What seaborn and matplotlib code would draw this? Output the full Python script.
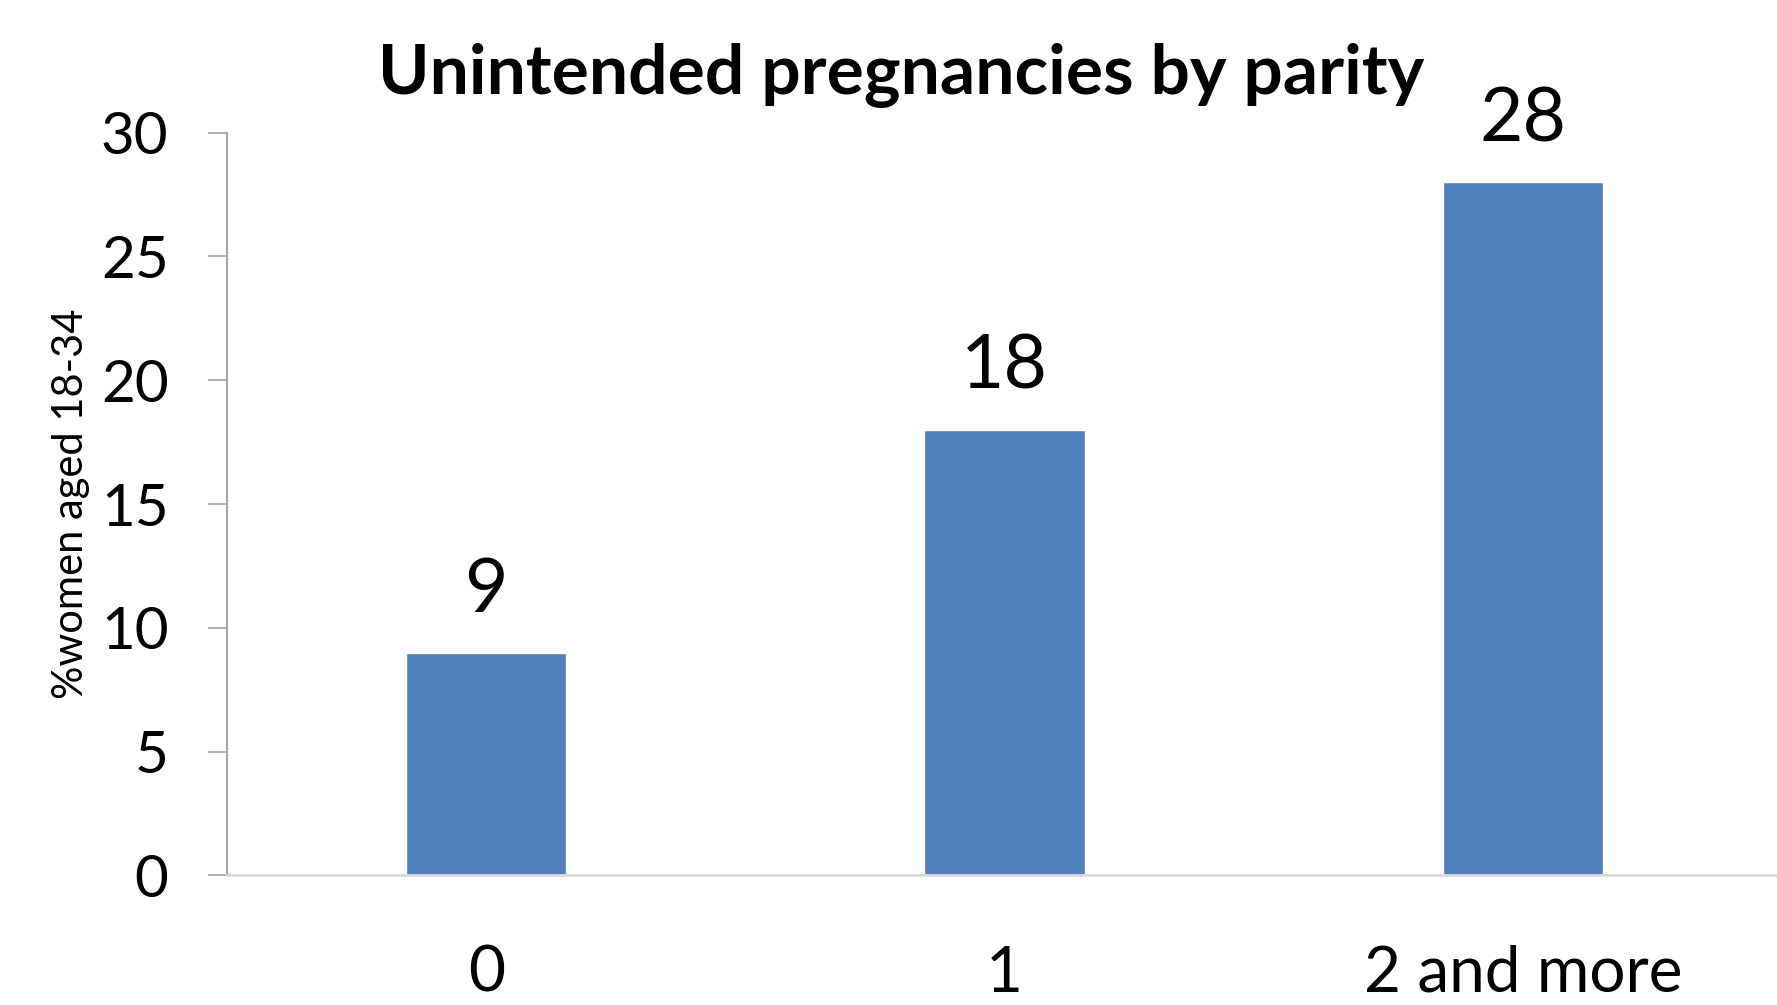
import matplotlib
matplotlib.use("Agg")
import matplotlib.pyplot as plt
import seaborn as sns
import pandas as pd

# data
parity = ["0", "1", "2 and more"]
pct_women = [9, 18, 28]
y_ticks = [0, 5, 10, 15, 20, 25, 30]

df = pd.DataFrame({"parity": parity, "pct": pct_women})

sns.set_style("white")
plt.rcParams["font.family"] = ["Lato", "DejaVu Sans"]
plt.rcParams["text.color"] = "black"
plt.rcParams["xtick.color"] = "black"
plt.rcParams["ytick.color"] = "black"
plt.rcParams["axes.labelcolor"] = "black"

fig = plt.figure(figsize=(17.77, 10.05), dpi=100)
ax = fig.add_axes([0.1277, 0.129, 0.8723, 0.739])

sns.barplot(data=df, x="parity", y="pct", color="#4f81bd", width=0.31,
            saturation=1, ax=ax)

# value labels above the bars
for i, v in enumerate(pct_women):
    ax.annotate(str(v), (i, v), xytext=(0, 20), textcoords="offset points",
                ha="center", va="bottom", fontsize=54)

ax.set_xlim(-0.5, 2.49)
ax.set_ylim(0, 30)
ax.set_yticks(y_ticks)
ax.tick_params(axis="y", labelsize=42, length=14, width=1.2, color="#a6a6a6",
               labelcolor="black", pad=28, direction="out", left=True)
ax.tick_params(axis="x", labelsize=46, length=0, pad=50, labelcolor="black")

for side in ["top", "right"]:
    ax.spines[side].set_visible(False)
ax.spines["left"].set_color("#a6a6a6")
ax.spines["left"].set_linewidth(1.5)
ax.spines["bottom"].set_color("#d9d9d9")
ax.spines["bottom"].set_linewidth(2)

ax.set_xlabel("")
ax.set_ylabel("%women aged 18-34", fontsize=30, labelpad=8)

fig.text(0.507, 0.925, "Unintended pregnancies by parity", ha="center",
         va="center", fontsize=50, fontweight="bold")

fig.savefig("out.png", dpi=100)
